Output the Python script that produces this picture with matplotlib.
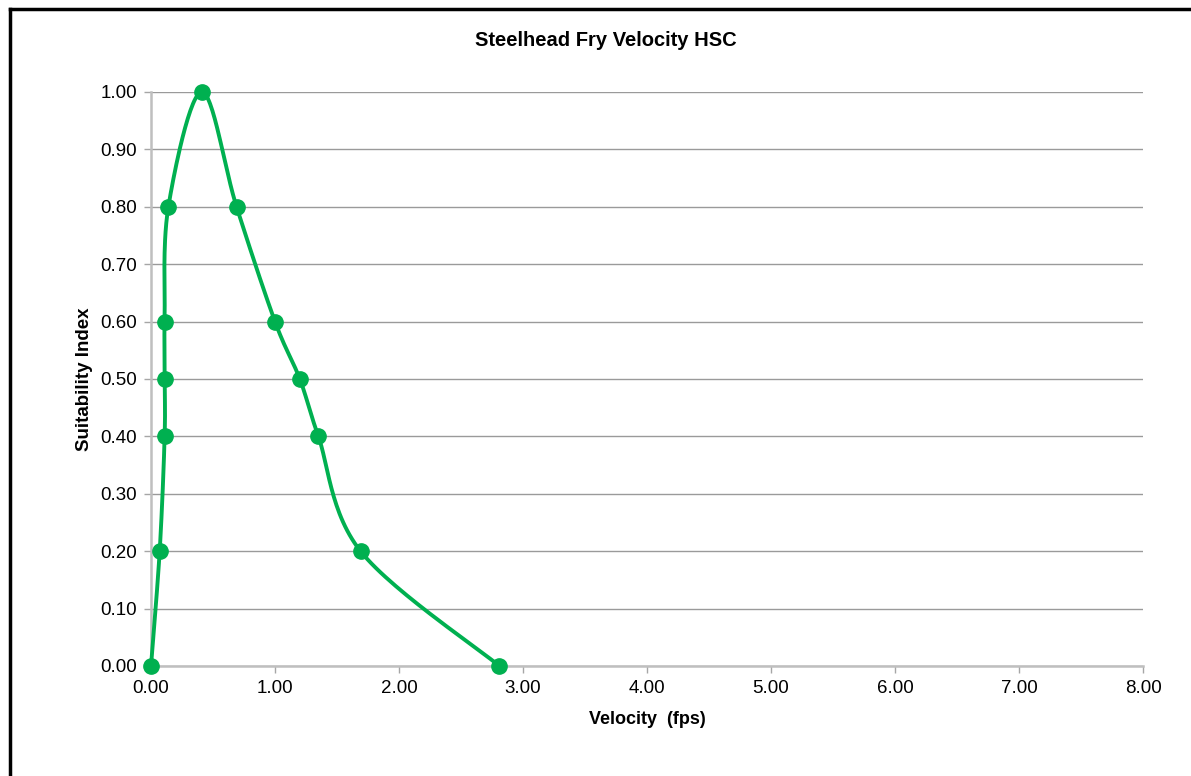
import numpy as np
import matplotlib
matplotlib.use('Agg')
import matplotlib.pyplot as plt
from matplotlib.lines import Line2D

plt.rcParams['font.family'] = ['Liberation Sans', 'DejaVu Sans']

# velocity (fps) and suitability index
velocity = [0.00, 0.07, 0.11, 0.11, 0.11, 0.14, 0.41, 0.69, 1.00, 1.20, 1.35, 1.69, 2.81]
suitability = [0.00, 0.20, 0.40, 0.50, 0.60, 0.80, 1.00, 0.80, 0.60, 0.50, 0.40, 0.20, 0.00]
xticks = [0, 1, 2, 3, 4, 5, 6, 7, 8]
yticks = [0.0, 0.1, 0.2, 0.3, 0.4, 0.5, 0.6, 0.7, 0.8, 0.9, 1.0]

green = '#00b050'


def smooth(x, y, sx, sy, n=30):
    # excel-like smoothed line: bezier through points, done in screen-ish space
    px = np.asarray(x) * sx
    py = np.asarray(y) * sy
    pts = np.column_stack([px, py])
    out = []
    for i in range(len(pts) - 1):
        p0 = pts[i - 1] if i > 0 else pts[i]
        p1 = pts[i]
        p2 = pts[i + 1]
        p3 = pts[i + 2] if i + 2 < len(pts) else pts[i + 1]
        c1 = p1 + (p2 - p0) / 6.0
        c2 = p2 - (p3 - p1) / 6.0
        t = np.linspace(0, 1, n)[:, None]
        seg = (1 - t) ** 3 * p1 + 3 * (1 - t) ** 2 * t * c1 + 3 * (1 - t) * t ** 2 * c2 + t ** 3 * p2
        out.append(seg if i == 0 else seg[1:])
    out = np.vstack(out)
    return out[:, 0] / sx, out[:, 1] / sy


fig = plt.figure(figsize=(11.91, 7.76), dpi=100)
ax = fig.add_axes([151 / 1191, 1 - 666 / 776, (1143 - 151) / 1191, (666 - 92) / 776])

sx, sy = 992 / 8.0, 574 / 1.0
cx, cy = smooth(velocity, suitability, sx, sy)
ax.plot(cx, cy, color=green, lw=2.8, solid_capstyle='round', zorder=3, clip_on=False)
ax.plot(velocity, suitability, 'o', color=green, ms=11, zorder=4, clip_on=False)

ax.set_xlim(0, 8)
ax.set_ylim(0, 1)
ax.set_xticks(xticks)
ax.set_yticks(yticks)
ax.set_xticklabels(['%.2f' % v for v in xticks])
ax.set_yticklabels(['%.2f' % v for v in yticks])
ax.tick_params(axis='both', direction='out', length=5, width=1, color='#a6a6a6',
               labelsize=13.5, pad=5)
ax.yaxis.grid(True, color='#9a9a9a', lw=1)
ax.set_axisbelow(True)
for s in ['top', 'right']:
    ax.spines[s].set_visible(False)
for s in ['left', 'bottom']:
    ax.spines[s].set_color('#bfbfbf')
    ax.spines[s].set_linewidth(1.8)

ax.set_xlabel('Velocity  (fps)', fontsize=13, fontweight='bold', labelpad=10)
ax.set_ylabel('Suitability Index', fontsize=13.5, fontweight='bold', labelpad=5)
fig.text(606 / 1191, 1 - 40 / 776, 'Steelhead Fry Velocity HSC', ha='center', va='center',
         fontsize=14.5, fontweight='bold')

# chart frame (top and left edges visible)
fig.add_artist(Line2D([10 / 1191, 1], [1 - 9 / 776, 1 - 9 / 776], transform=fig.transFigure,
                      color='black', lw=2.5))
fig.add_artist(Line2D([10 / 1191, 10 / 1191], [0, 1 - 9 / 776], transform=fig.transFigure,
                      color='black', lw=2.5))

fig.savefig('out.png', dpi=100)
